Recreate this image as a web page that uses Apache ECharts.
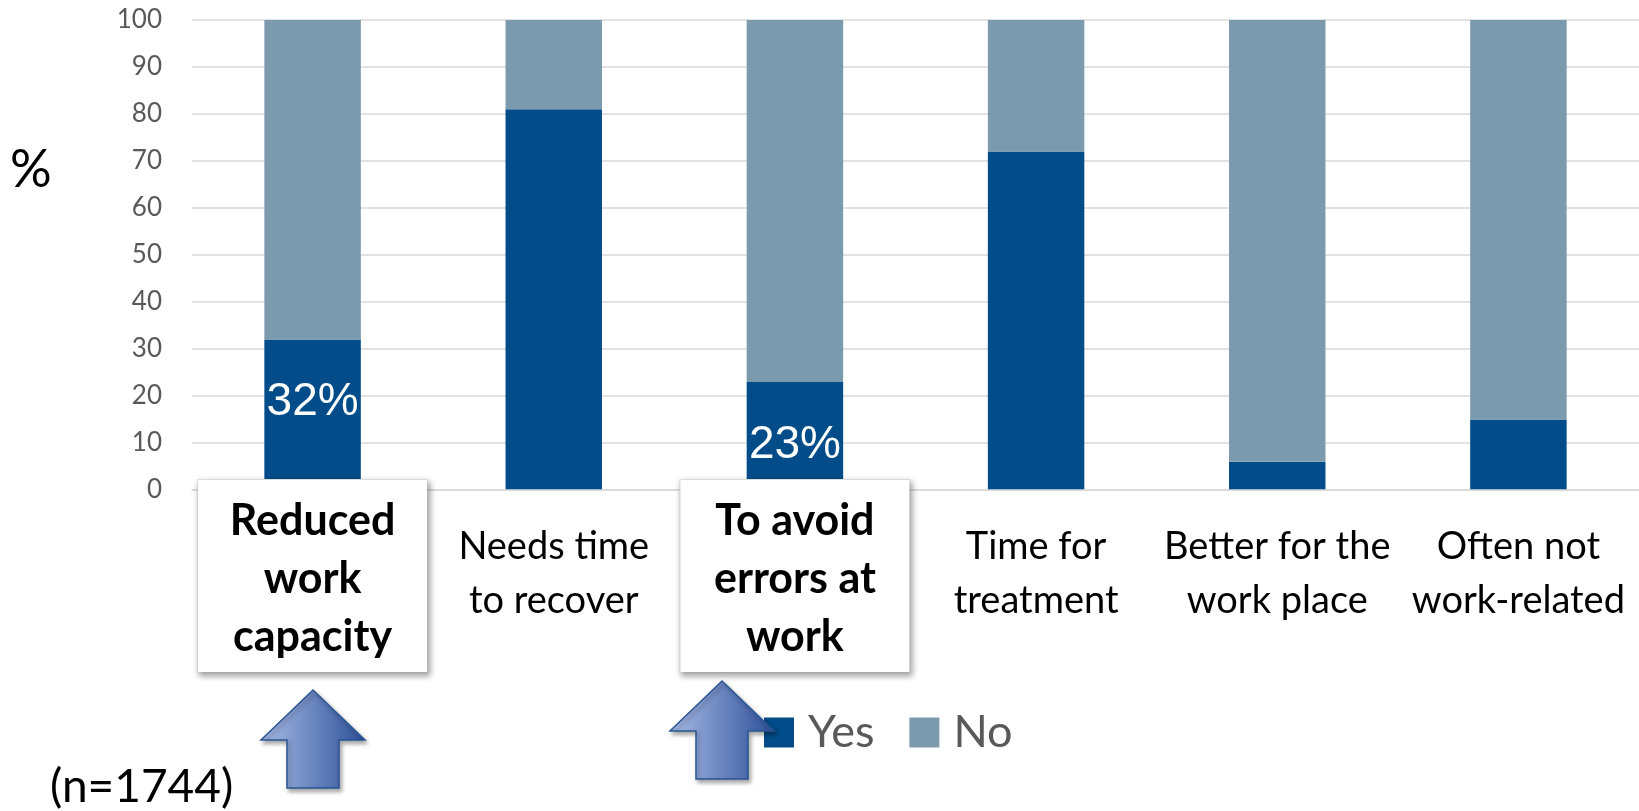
<!DOCTYPE html>
<html>
<head>
<meta charset="utf-8">
<script src="https://cdn.jsdelivr.net/npm/echarts@6/dist/echarts.min.js"></script>
<style>
  html, body { margin: 0; padding: 0; background: #ffffff; }
  #chart { width: 1639px; height: 811px; }
</style>
</head>
<body>
<div id="chart"></div>
<script>
// Reasons given (share of respondents, %)
const categories = [
  'Reduced\nwork\ncapacity',
  'Needs time\nto recover',
  'To avoid\nerrors at\nwork',
  'Time for\ntreatment',
  'Better for the\nwork place',
  'Often not\nwork-related'
];
const yesValues = [32, 81, 23, 72, 6, 15];
const noValues = [68, 19, 77, 28, 94, 85];
// categories emphasised with a boxed label and a value label on the bar
const emphasised = [true, false, true, false, false, false];
const yTicks = { min: 0, max: 100, interval: 10 };
const axisTitle = '%';
const sampleNote = '(n=1744)';

const YES_COLOR = '#024c89';
const NO_COLOR = '#7b9aae';

const chart = echarts.init(document.getElementById('chart'), null, { renderer: 'canvas' });

const xData = categories.map((name, i) => emphasised[i]
  ? {
      value: name,
      textStyle: {
        fontFamily: 'Lato',
        fontWeight: 'bold',
        fontSize: 43,
        lineHeight: 58,
        color: '#000000',
        backgroundColor: '#ffffff',
        borderColor: '#e4e4e4',
        borderWidth: 1,
        width: 229,
        padding: [12, 0, 6, 0],
        shadowColor: 'rgba(0,0,0,0.35)',
        shadowBlur: 6,
        shadowOffsetX: 2,
        shadowOffsetY: 3
      }
    }
  : {
      value: name,
      textStyle: {
        fontFamily: 'Lato',
        fontSize: 38,
        lineHeight: 54,
        color: '#000000',
        padding: [40, 0, 0, 0]
      }
    });

const yesData = yesValues.map((v, i) => emphasised[i]
  ? { value: v, label: { show: true } }
  : { value: v });

// block arrow pointing up, tip at (0, 0)
function arrowPoints(tx, ty) {
  const rel = [[0, 0], [52, 50], [26, 50], [26, 98], [-26, 98], [-26, 50], [-52, 50]];
  return rel.map(p => [tx + p[0], ty + p[1]]);
}
function arrow(tx, ty) {
  return {
    type: 'polygon',
    z: 100,
    shape: { points: arrowPoints(tx, ty) },
    style: {
      fill: new echarts.graphic.LinearGradient(0, 0, 1, 0, [
        { offset: 0, color: '#a8bce6' },
        { offset: 1, color: '#2d4f99' }
      ]),
      stroke: '#2a5694',
      lineWidth: 1.5,
      shadowColor: 'rgba(0,0,0,0.35)',
      shadowBlur: 4,
      shadowOffsetX: 2,
      shadowOffsetY: 3
    }
  };
}

const option = {
  backgroundColor: '#ffffff',
  animation: false,
  grid: { left: 192, right: 0, top: 20, bottom: 321, containLabel: false },
  legend: {
    data: ['Yes', 'No'],
    left: 764,
    top: 710,
    padding: 0,
    icon: 'rect',
    itemWidth: 30,
    itemHeight: 30,
    itemGap: 35,
    textStyle: {
      fontFamily: 'Lato',
      fontSize: 45,
      color: '#595959',
      padding: [0, 0, 0, 9]
    }
  },
  xAxis: {
    type: 'category',
    data: xData,
    z: 5,
    axisLine: { show: true, lineStyle: { color: '#d9d9d9', width: 1.5 } },
    axisTick: { show: false },
    axisLabel: {
      interval: 0,
      margin: -10,
      verticalAlign: 'top',
      fontFamily: 'Lato',
      fontSize: 38,
      color: '#000000'
    }
  },
  yAxis: {
    type: 'value',
    min: yTicks.min,
    max: yTicks.max,
    interval: yTicks.interval,
    axisLine: { show: false },
    axisTick: { show: false },
    axisLabel: {
      margin: 30,
      fontFamily: 'Lato',
      fontSize: 26,
      color: '#595959'
    },
    splitLine: { lineStyle: { color: '#d9d9d9', width: 1.5 } }
  },
  series: [
    {
      name: 'Yes',
      type: 'bar',
      stack: 'total',
      barWidth: '40%',
      data: yesData,
      itemStyle: { color: YES_COLOR },
      label: {
        show: false,
        position: 'insideTop',
        distance: 40,
        formatter: '{c}%',
        fontFamily: 'Liberation Sans',
        fontSize: 46,
        color: '#ffffff'
      }
    },
    {
      name: 'No',
      type: 'bar',
      stack: 'total',
      barWidth: '40%',
      data: noValues,
      itemStyle: { color: NO_COLOR }
    }
  ],
  graphic: [
    {
      type: 'text',
      left: 10,
      top: 144,
      style: { text: axisTitle, fontFamily: 'Lato', fontSize: 52, fill: '#000000' }
    },
    {
      type: 'text',
      left: 50,
      top: 764,
      style: { text: sampleNote, fontFamily: 'Lato', fontSize: 46, fill: '#000000' }
    },
    arrow(313, 690),
    arrow(722, 681)
  ]
};

chart.setOption(option);
</script>
</body>
</html>
